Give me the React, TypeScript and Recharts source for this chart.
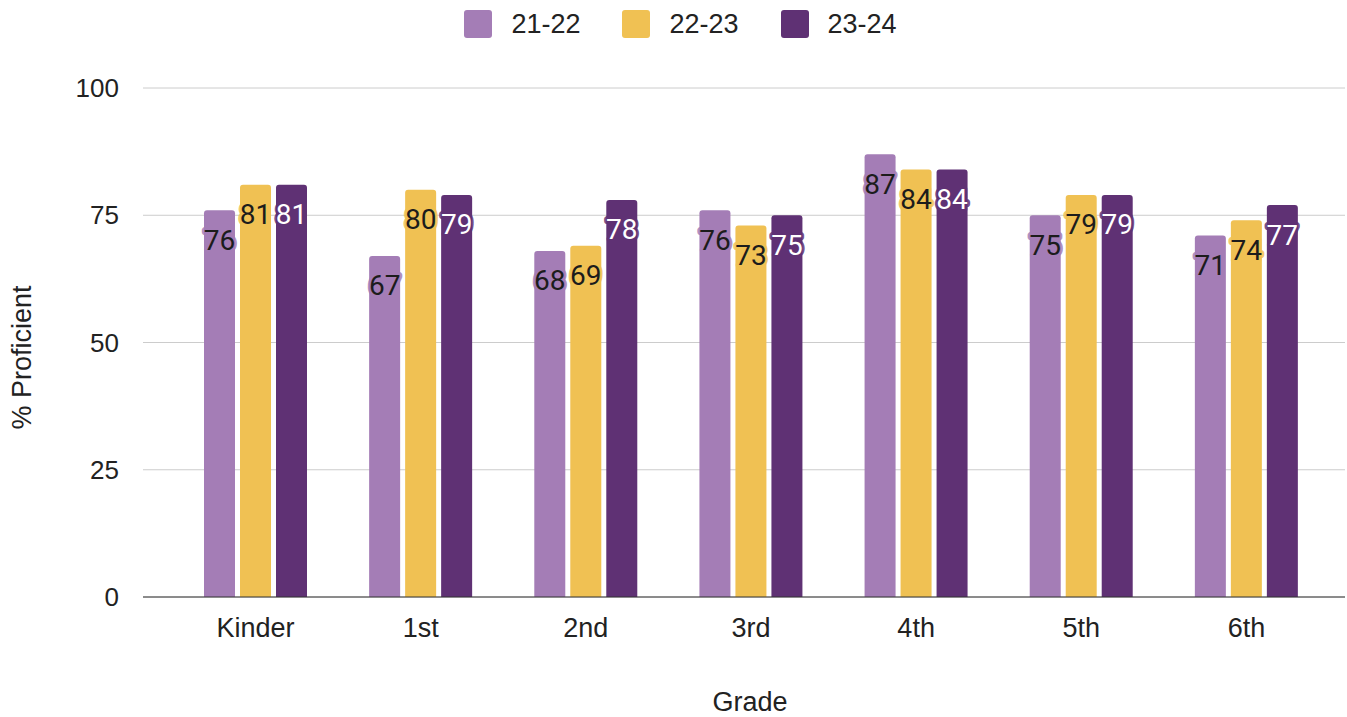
import { BarChart, Bar, XAxis, YAxis, CartesianGrid, Legend, LabelList, Label } from 'recharts';

const grades = ['Kinder', '1st', '2nd', '3rd', '4th', '5th', '6th'];
const y2122 = [76, 67, 68, 76, 87, 75, 71];
const y2223 = [81, 80, 69, 73, 84, 79, 74];
const y2324 = [81, 79, 78, 75, 84, 79, 77];
const yTicks = [0, 25, 50, 75, 100];

const series = [
  { key: 'y2122', name: '21-22', color: '#a47db6', text: '#1c1c1c' },
  { key: 'y2223', name: '22-23', color: '#f0c153', text: '#1c1c1c' },
  { key: 'y2324', name: '23-24', color: '#5f3174', text: '#ffffff' },
];

const data = grades.map((g, i) => ({
  grade: g,
  y2122: y2122[i],
  y2223: y2223[i],
  y2324: y2324[i],
}));

const axisFont = '"Liberation Sans", Arial, sans-serif';

function makeLabel(fill: string, textColor: string) {
  return (props: any) => {
    const x = Number(props.x);
    const y = Number(props.y);
    const w = Number(props.width);
    return (
      <text
        x={x + w / 2}
        y={y + 30}
        textAnchor="middle"
        dominantBaseline="central"
        fontSize={28}
        fontFamily="Roboto, sans-serif"
        fill={textColor}
        stroke={fill}
        strokeOpacity={0.85}
        strokeWidth={6}
        strokeLinejoin="round"
        paintOrder="stroke"
      >
        {props.value}
      </text>
    );
  };
}

function LegendContent() {
  return (
    <div
      style={{
        display: 'flex',
        justifyContent: 'center',
        alignItems: 'flex-start',
        height: 88,
        paddingTop: 10,
        paddingLeft: 16,
        boxSizing: 'border-box',
        fontFamily: axisFont,
        fontSize: 27,
        color: '#222',
      }}
    >
      {series.map((s) => (
        <div key={s.key} style={{ display: 'flex', alignItems: 'center', margin: '0 21px', height: 28 }}>
          <div style={{ width: 28, height: 28, borderRadius: 3, background: s.color, marginRight: 19 }} />
          <span>{s.name}</span>
        </div>
      ))}
    </div>
  );
}

function YTitle(props: any) {
  const vb = props.viewBox || {};
  const cx = 22;
  const cy = Number(vb.y) + Number(vb.height) / 2 + 15;
  return (
    <text
      x={cx}
      y={cy}
      transform={`rotate(-90, ${cx}, ${cy})`}
      textAnchor="middle"
      dominantBaseline="central"
      fill="#222"
      fontSize={27}
      fontFamily={axisFont}
    >
      % Proficient
    </text>
  );
}

function XTitle(props: any) {
  const vb = props.viewBox || {};
  const cx = Number(vb.x) + Number(vb.width) / 2 + 6;
  return (
    <text x={cx} y={711} textAnchor="middle" fill="#222" fontSize={27} fontFamily={axisFont}>
      Grade
    </text>
  );
}

export default function App() {
  return (
    <div style={{ position: 'absolute', left: 0, top: 0 }}>
      <BarChart
        width={1347}
        height={717}
        data={data}
        margin={{ top: 0, right: 2, bottom: 0, left: 0 }}
        barSize={31}
        barGap={5}
      >
        <Legend verticalAlign="top" align="center" content={<LegendContent />} />
        <CartesianGrid vertical={false} stroke="#cccccc" />
        <XAxis
          dataKey="grade"
          height={120}
          padding={{ left: 30, right: 16 }}
          axisLine={{ stroke: '#333333' }}
          tickLine={false}
          tickMargin={15}
          tick={{ fill: '#222', fontSize: 27, fontFamily: axisFont }}
        >
          <Label content={<XTitle />} />
        </XAxis>
        <YAxis
          width={143}
          domain={[0, 100]}
          ticks={yTicks}
          axisLine={false}
          tickLine={false}
          tickMargin={18}
          tick={{ fill: '#222', fontSize: 26, fontFamily: axisFont }}
        >
          <Label content={<YTitle />} />
        </YAxis>
        {series.map((s) => (
          <Bar
            key={s.key}
            dataKey={s.key}
            name={s.name}
            fill={s.color}
            radius={[3, 3, 0, 0]}
            isAnimationActive={false}
          >
            <LabelList dataKey={s.key} content={makeLabel(s.color, s.text)} />
          </Bar>
        ))}
      </BarChart>
    </div>
  );
}
